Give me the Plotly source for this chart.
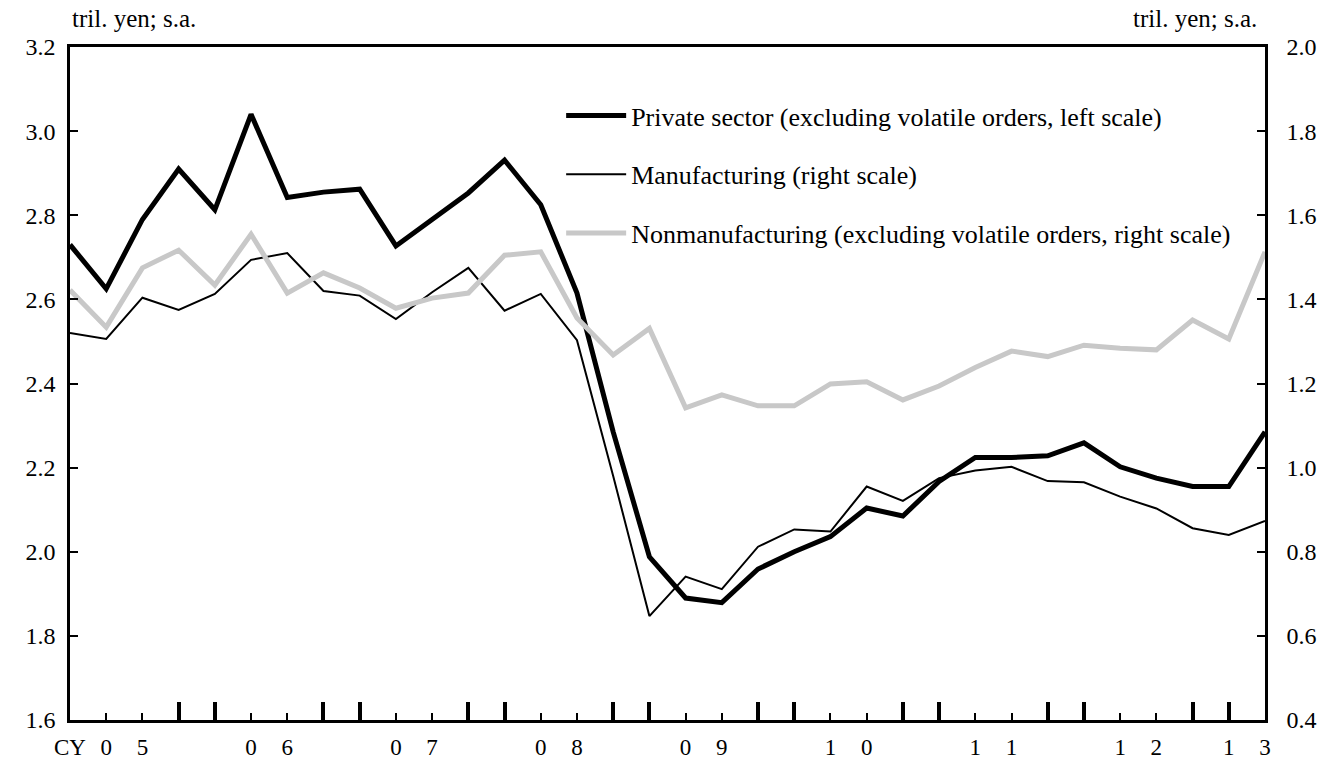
import plotly.graph_objects as go

# Quarterly data, 2005 Q1 .. 2013 Q2 (34 quarters)
quarters = list(range(34))

private_sector = [2.73, 2.625, 2.79, 2.91, 2.813, 3.04, 2.842, 2.855, 2.862, 2.727,
                  2.79, 2.853, 2.931, 2.825, 2.615, 2.285, 1.988, 1.89, 1.879, 1.959,
                  2.0, 2.036, 2.104, 2.085, 2.167, 2.224, 2.224, 2.228, 2.259, 2.202,
                  2.175, 2.155, 2.155, 2.285]

manufacturing = [1.32, 1.306, 1.404, 1.375, 1.413, 1.494, 1.51, 1.42, 1.409, 1.353,
                 1.417, 1.475, 1.373, 1.413, 1.303, 0.98, 0.647, 0.741, 0.711, 0.812,
                 0.853, 0.848, 0.955, 0.921, 0.975, 0.993, 1.002, 0.968, 0.965, 0.931,
                 0.903, 0.856, 0.84, 0.873]

nonmanufacturing = [1.422, 1.334, 1.475, 1.517, 1.434, 1.555, 1.415, 1.463, 1.427, 1.379,
                    1.403, 1.415, 1.505, 1.513, 1.356, 1.268, 1.331, 1.142, 1.173, 1.147,
                    1.147, 1.199, 1.204, 1.161, 1.194, 1.238, 1.277, 1.264, 1.291, 1.284,
                    1.28, 1.351, 1.306, 1.513]

# x-axis labels (split year digits as in the original)
label_pos = [0, 1, 2, 5, 6, 9, 10, 13, 14, 17, 18, 21, 22, 25, 26, 29, 30, 32, 33]
label_text = ["CY", "0", "5", "0", "6", "0", "7", "0", "8", "0", "9",
              "1", "0", "1", "1", "1", "2", "1", "3"]
big_ticks = [0, 3, 4, 7, 8, 11, 12, 15, 16, 19, 20, 23, 24, 27, 28, 31, 32]

left_ticks = [1.6, 1.8, 2.0, 2.2, 2.4, 2.6, 2.8, 3.0, 3.2]
right_ticks = [0.4, 0.6, 0.8, 1.0, 1.2, 1.4, 1.6, 1.8, 2.0]

FONT = "Liberation Serif"

fig = go.Figure()
fig.add_trace(go.Scatter(
    x=quarters, y=private_sector, mode="lines",
    name="Private sector (excluding volatile orders, left scale)",
    line=dict(color="black", width=5), legendgroup="a",
    xaxis="x", yaxis="y"))
fig.add_trace(go.Scatter(
    x=quarters, y=manufacturing, mode="lines",
    name="Manufacturing (right scale)",
    line=dict(color="black", width=2), legendgroup="b",
    xaxis="x2", yaxis="y2"))
fig.add_trace(go.Scatter(
    x=quarters, y=nonmanufacturing, mode="lines",
    name="Nonmanufacturing (excluding volatile orders, right scale)",
    line=dict(color="#c8c8c8", width=5), legendgroup="c",
    xaxis="x2", yaxis="y2"))

fig.update_layout(
    width=1325, height=763,
    margin=dict(l=70, r=60, t=47, b=43),
    plot_bgcolor="white", paper_bgcolor="white",
    font=dict(family=FONT, size=22, color="black"),
    showlegend=True,
    legend=dict(x=0.411, y=0.933, xanchor="left", yanchor="top",
                bgcolor="rgba(0,0,0,0)", font=dict(family=FONT, size=26),
                traceorder="grouped", tracegroupgap=22, itemwidth=60),
    xaxis=dict(range=[0, 33], showgrid=False, zeroline=False, automargin=False,
               showline=True, linecolor="black", linewidth=2.5, mirror=True,
               tickmode="array", tickvals=big_ticks, ticks="inside",
               ticklen=18, tickwidth=4, tickcolor="black",
               showticklabels=False,
               minor=dict(tickmode="linear", tick0=0, dtick=1, ticks="inside",
                          ticklen=7, tickwidth=1.5, tickcolor="black")),
    xaxis2=dict(range=[0, 33], overlaying="x", anchor="y2", side="bottom",
                showgrid=False, zeroline=False, showline=False, automargin=False,
                tickmode="array", tickvals=label_pos, ticktext=label_text,
                ticks="", ticklabelstandoff=11,
                tickfont=dict(family=FONT, size=23)),
    yaxis=dict(range=[1.6, 3.2], showgrid=False, zeroline=False, automargin=False,
               showline=True, linecolor="black", linewidth=2.5,
               tickmode="array", tickvals=left_ticks,
               ticktext=[f"{v:.1f}" for v in left_ticks],
               ticks="inside", ticklen=8, tickwidth=2, tickcolor="black",
               ticklabelstandoff=7, tickfont=dict(family=FONT, size=24)),
    yaxis2=dict(range=[0.4, 2.0], overlaying="y", side="right", anchor="x2",
                showgrid=False, zeroline=False, automargin=False,
                showline=True, linecolor="black", linewidth=2.5,
                tickmode="array", tickvals=right_ticks,
                ticktext=[f"{v:.1f}" for v in right_ticks],
                ticks="inside", ticklen=8, tickwidth=2, tickcolor="black",
                ticklabelstandoff=14, tickfont=dict(family=FONT, size=24)),
    annotations=[
        dict(text="tril. yen; s.a.", xref="paper", yref="paper", x=0.0, y=1.0,
             xanchor="left", yanchor="bottom", yshift=13, showarrow=False,
             font=dict(family=FONT, size=25)),
        dict(text="tril. yen; s.a.", xref="paper", yref="paper", x=1.0, y=1.0,
             xanchor="right", yanchor="bottom", yshift=13, xshift=-6, showarrow=False,
             font=dict(family=FONT, size=25)),
    ],
)

fig.write_html("out.html",
               config={"displayModeBar": False},
               post_script="document.body.style.margin='0px';document.body.style.overflow='hidden';")
